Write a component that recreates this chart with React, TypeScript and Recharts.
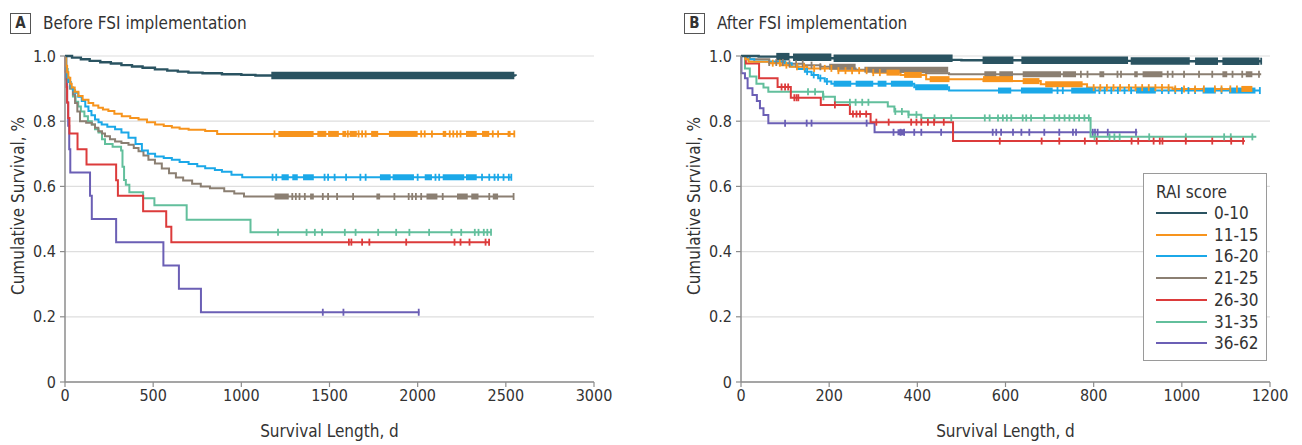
import React from 'react';
import { ComposedChart, Line, Scatter, XAxis, YAxis, CartesianGrid } from 'recharts';

type Pt = [number, number];

const groups = ['0-10', '11-15', '16-20', '21-25', '26-30', '31-35', '36-62'];
const colors = ['#2a5361', '#f7941d', '#1ba8e8', '#8b7f72', '#dc3b3b', '#62bf9c', '#6b5fb5'];

const yTicks = [0, 0.2, 0.4, 0.6, 0.8, 1.0];
const xTicksA = [0, 500, 1000, 1500, 2000, 2500, 3000];
const xTicksB = [0, 200, 400, 600, 800, 1000, 1200];

// ---------- A: before FSI implementation ----------
// survival curves: [day, cumulative survival]
const survA_0_10: Pt[] = [[0, 1], [40, 0.995], [90, 0.99], [140, 0.985], [200, 0.981], [260, 0.977], [320, 0.972], [380, 0.968], [440, 0.964], [510, 0.959], [580, 0.955], [640, 0.952], [700, 0.949], [780, 0.947], [890, 0.944], [1000, 0.942], [1080, 0.94], [2555, 0.939]];
const survA_11_15: Pt[] = [[0, 1], [5, 0.97], [12, 0.95], [19, 0.933], [30, 0.915], [38, 0.903], [55, 0.89], [76, 0.877], [100, 0.866], [133, 0.856], [160, 0.848], [189, 0.841], [215, 0.836], [246, 0.831], [280, 0.823], [322, 0.815], [370, 0.81], [417, 0.805], [465, 0.797], [511, 0.79], [560, 0.785], [606, 0.781], [650, 0.777], [701, 0.774], [795, 0.77], [863, 0.761], [2548, 0.761]];
const survA_16_20: Pt[] = [[0, 1], [6, 0.96], [12, 0.935], [20, 0.92], [32, 0.903], [45, 0.895], [57, 0.887], [75, 0.875], [95, 0.862], [115, 0.845], [133, 0.831], [150, 0.818], [170, 0.805], [190, 0.797], [208, 0.79], [240, 0.783], [284, 0.775], [320, 0.765], [360, 0.749], [400, 0.73], [436, 0.71], [470, 0.7], [511, 0.692], [560, 0.687], [606, 0.682], [650, 0.675], [701, 0.669], [750, 0.662], [795, 0.656], [850, 0.65], [890, 0.645], [944, 0.636], [1005, 0.628], [2531, 0.628]];
const survA_21_25: Pt[] = [[0, 1], [8, 0.95], [15, 0.92], [30, 0.9], [45, 0.882], [57, 0.856], [70, 0.83], [85, 0.8], [120, 0.795], [152, 0.79], [170, 0.78], [189, 0.769], [210, 0.762], [227, 0.754], [255, 0.745], [284, 0.738], [320, 0.733], [360, 0.728], [390, 0.718], [417, 0.708], [445, 0.695], [473, 0.682], [510, 0.67], [549, 0.655], [590, 0.64], [629, 0.627], [670, 0.618], [721, 0.608], [770, 0.6], [822, 0.594], [903, 0.585], [960, 0.578], [1015, 0.569], [2544, 0.569]];
const survA_26_30: Pt[] = [[0, 1], [3, 0.952], [8, 0.905], [12, 0.857], [18, 0.81], [25, 0.762], [71, 0.714], [122, 0.667], [290, 0.619], [300, 0.571], [443, 0.524], [574, 0.476], [603, 0.429], [2405, 0.429]];
const survA_31_35: Pt[] = [[0, 1], [6, 0.96], [15, 0.93], [28, 0.9], [45, 0.876], [60, 0.86], [75, 0.845], [90, 0.83], [110, 0.815], [130, 0.8], [152, 0.79], [170, 0.775], [190, 0.765], [210, 0.745], [227, 0.73], [270, 0.722], [318, 0.71], [326, 0.66], [335, 0.62], [345, 0.605], [365, 0.582], [443, 0.564], [507, 0.542], [690, 0.498], [1052, 0.459], [2416, 0.459]];
const survA_36_62: Pt[] = [[0, 1], [4, 0.929], [12, 0.857], [18, 0.786], [24, 0.714], [30, 0.643], [142, 0.571], [152, 0.5], [290, 0.429], [558, 0.357], [646, 0.286], [771, 0.214], [2010, 0.214]];

// censored observations (days) and densely censored stretches [from, to]
const censA_0_10: number[] = [];
const denseA_0_10: Pt[] = [[1170, 2548]];
const censA_11_15 = [1188, 1604, 1665, 1685, 1705, 2020, 2040, 2081, 2182, 2202, 2223, 2243, 2426, 2456, 2548];
const denseA_11_15: Pt[] = [[1210, 1410], [1431, 1482], [1492, 1553], [1573, 1595], [1614, 1655], [1736, 1776], [1837, 2000], [2142, 2162], [2274, 2335], [2365, 2406], [2510, 2527]];
const censA_16_20 = [1177, 1198, 1472, 1492, 1529, 1594, 1675, 1705, 2000, 2101, 2122, 2365, 2406, 2436, 2456, 2487, 2517, 2531];
const denseA_16_20: Pt[] = [[1228, 1269], [1289, 1320], [1350, 1411], [1786, 1847], [1858, 1979], [2040, 2081], [2142, 2264], [2274, 2335]];
const censA_21_25 = [1289, 1309, 1330, 1360, 1462, 1492, 1543, 1634, 1868, 1949, 1969, 1990, 2020, 2142, 2406, 2544];
const denseA_21_25: Pt[] = [[1188, 1269], [1390, 1411], [1766, 1787], [2050, 2112], [2223, 2284], [2304, 2345], [2426, 2456]];
const censA_26_30 = [1610, 1624, 1685, 1726, 1935, 2209, 2243, 2294, 2385, 2405];
const denseA_26_30: Pt[] = [];
const censA_31_35 = [1208, 1370, 1417, 1458, 1587, 1648, 1776, 1878, 1953, 2065, 2192, 2247, 2324, 2345, 2375, 2395, 2416];
const denseA_31_35: Pt[] = [];
const censA_36_62 = [1462, 1579, 2006];
const denseA_36_62: Pt[] = [];

// ---------- B: after FSI implementation ----------
const survB_0_10: Pt[] = [[0, 1], [40, 0.998], [100, 0.996], [200, 0.993], [300, 0.99], [400, 0.988], [500, 0.987], [650, 0.986], [800, 0.985], [950, 0.984], [1180, 0.984]];
const survB_11_15: Pt[] = [[0, 1], [10, 0.99], [17, 0.982], [64, 0.978], [90, 0.972], [111, 0.967], [150, 0.962], [221, 0.955], [299, 0.949], [362, 0.942], [420, 0.929], [550, 0.923], [680, 0.913], [785, 0.903], [979, 0.899], [1165, 0.899]];
const survB_16_20: Pt[] = [[0, 1], [15, 0.99], [30, 0.983], [100, 0.978], [115, 0.968], [130, 0.96], [145, 0.952], [160, 0.942], [175, 0.932], [190, 0.922], [205, 0.915], [393, 0.904], [472, 0.894], [1177, 0.894]];
const survB_21_25: Pt[] = [[0, 1], [20, 0.99], [64, 0.98], [100, 0.976], [143, 0.972], [180, 0.967], [221, 0.962], [260, 0.958], [299, 0.955], [340, 0.952], [378, 0.95], [420, 0.947], [472, 0.944], [1180, 0.944]];
const survB_26_30: Pt[] = [[0, 1], [11, 0.977], [41, 0.932], [83, 0.905], [113, 0.872], [181, 0.85], [247, 0.822], [294, 0.797], [481, 0.739], [1143, 0.739]];
const survB_31_35: Pt[] = [[0, 1], [9, 0.962], [20, 0.937], [35, 0.915], [51, 0.903], [62, 0.89], [186, 0.875], [213, 0.858], [333, 0.845], [348, 0.83], [380, 0.82], [409, 0.81], [793, 0.752], [1169, 0.752]];
const survB_36_62: Pt[] = [[0, 1], [1, 0.947], [9, 0.932], [15, 0.901], [26, 0.88], [36, 0.862], [43, 0.84], [51, 0.819], [62, 0.794], [303, 0.766], [899, 0.766]];

const censB_0_10: number[] = [1180];
const denseB_0_10: Pt[] = [[80, 110], [118, 205], [210, 480], [548, 618], [636, 878], [884, 1018], [1030, 1082], [1092, 1176]];
const censB_11_15 = [72, 88, 103, 127, 143, 166, 190, 205, 221, 237, 252, 268, 285, 300, 315, 800, 815, 830, 845, 860, 880, 895, 910, 925, 940, 955, 970, 985, 1005, 1030, 1050, 1075, 1090, 1110, 1125];
const denseB_11_15: Pt[] = [[330, 360], [370, 410], [428, 473], [549, 617], [639, 677], [690, 775], [1135, 1160]];
const censB_16_20 = [150, 165, 180, 195, 718, 730, 813, 825, 840, 855, 870, 885, 955, 970, 985, 1000, 1015, 1030, 1090, 1177];
const denseB_16_20: Pt[] = [[210, 250], [260, 300], [310, 330], [340, 390], [395, 470], [583, 613], [635, 707], [749, 805], [896, 941], [1047, 1077], [1107, 1167]];
const censB_21_25 = [64, 80, 95, 110, 125, 140, 160, 180, 771, 786, 854, 862, 968, 979, 1005, 1039, 1069, 1115, 1137, 1175];
const denseB_21_25: Pt[] = [[200, 260], [280, 470], [552, 579], [586, 617], [639, 726], [730, 760], [813, 824], [892, 900], [911, 956], [1092, 1103], [1145, 1160]];
const censB_26_30 = [92, 100, 107, 121, 126, 130, 213, 254, 262, 270, 284, 307, 335, 386, 398, 409, 424, 438, 460, 587, 682, 722, 780, 807, 886, 901, 936, 950, 956, 1009, 1069, 1112, 1139];
const denseB_26_30: Pt[] = [];
const censB_31_35 = [152, 168, 187, 247, 260, 275, 289, 350, 365, 380, 398, 439, 477, 553, 564, 583, 594, 603, 613, 639, 647, 658, 688, 711, 722, 734, 745, 756, 767, 779, 789, 802, 836, 847, 859, 926, 1009, 1096, 1111, 1160];
const denseB_31_35: Pt[] = [];
const censB_36_62 = [100, 149, 160, 285, 346, 362, 370, 393, 409, 454, 571, 579, 590, 617, 636, 654, 688, 722, 753, 760, 798, 803, 809, 832, 896];
const denseB_36_62: Pt[] = [[355, 372]];

const curvesA = [survA_0_10, survA_11_15, survA_16_20, survA_21_25, survA_26_30, survA_31_35, survA_36_62];
const censorsA = [censA_0_10, censA_11_15, censA_16_20, censA_21_25, censA_26_30, censA_31_35, censA_36_62];
const denseA = [denseA_0_10, denseA_11_15, denseA_16_20, denseA_21_25, denseA_26_30, denseA_31_35, denseA_36_62];
const curvesB = [survB_0_10, survB_11_15, survB_16_20, survB_21_25, survB_26_30, survB_31_35, survB_36_62];
const censorsB = [censB_0_10, censB_11_15, censB_16_20, censB_21_25, censB_26_30, censB_31_35, censB_36_62];
const denseB = [denseB_0_10, denseB_11_15, denseB_16_20, denseB_21_25, denseB_26_30, denseB_31_35, denseB_36_62];

const FONT = "'Liberation Sans Narrow', 'DejaVu Sans Condensed', 'Roboto', sans-serif";
const AXIS = '#8c8c8c';
const TEXT = '#333';

// value of a KM step curve at day t
const stepValue = (curve: Pt[], t: number) => {
  let s = curve[0][1];
  for (const [d, v] of curve) {
    if (d <= t) s = v;
    else break;
  }
  return s;
};

const drawOrder = [6, 5, 4, 3, 2, 1, 0];

interface PanelProps {
  width: number;
  rightPad: number;
  xMax: number;
  xTicks: number[];
  curves: Pt[][];
  censors: number[][];
  dense: Pt[][];
}

const KMPanel = ({ width, rightPad, xMax, xTicks, curves, censors, dense }: PanelProps) => {
  return (
    <ComposedChart width={width} height={445} margin={{ top: 56, right: rightPad, bottom: 0, left: 0 }}>
      <CartesianGrid vertical={false} stroke="#dedede" strokeWidth={1.2} />
      <XAxis
        type="number"
        dataKey="t"
        domain={[0, xMax]}
        ticks={xTicks}
        height={63}
        tickSize={5}
        tickMargin={3}
        axisLine={{ stroke: AXIS, strokeWidth: 1.5 }}
        tickLine={{ stroke: AXIS, strokeWidth: 1.2 }}
        tick={{ fill: TEXT, fontSize: 16, fontFamily: FONT }}
        label={{ value: 'Survival Length, d', position: 'insideBottom', offset: 8, style: { fill: TEXT, fontSize: 17, fontFamily: FONT } }}
      />
      <YAxis
        type="number"
        dataKey="s"
        domain={[0, 1]}
        ticks={yTicks}
        width={65}
        tickSize={5}
        tickMargin={4}
        tickFormatter={(v: number) => (v === 0 ? '0' : v.toFixed(1))}
        axisLine={{ stroke: AXIS, strokeWidth: 1.5 }}
        tickLine={{ stroke: AXIS, strokeWidth: 1.2 }}
        tick={{ fill: TEXT, fontSize: 16, fontFamily: FONT }}
        label={{
          value: 'Cumulative Survival, %',
          content: () => (
            <text x={18} y={206} transform="rotate(-90 18 206)" textAnchor="middle" dominantBaseline="central" fill={TEXT} fontSize={17} fontFamily={FONT}>
              Cumulative Survival, %
            </text>
          ),
        }}
      />
      {drawOrder.map((i) => (
        <Line
          key={'curve' + i}
          data={curves[i].map(([t, s]) => ({ t, s }))}
          dataKey="s"
          type="stepAfter"
          stroke={colors[i]}
          strokeWidth={i === 0 ? 2.4 : 2}
          dot={false}
          activeDot={false}
          isAnimationActive={false}
        />
      ))}
      {drawOrder.flatMap((i) =>
        dense[i].map(([a, b], k) => (
          <Line
            key={'dense' + i + '-' + k}
            data={[{ t: a, s: stepValue(curves[i], a) }, { t: b, s: stepValue(curves[i], a) }]}
            dataKey="s"
            type="linear"
            stroke={colors[i]}
            strokeWidth={i === 0 ? 7.5 : 6}
            strokeLinecap="butt"
            dot={false}
            activeDot={false}
            isAnimationActive={false}
          />
        ))
      )}
      {drawOrder.map((i) => (
        <Scatter
          key={'cens' + i}
          data={censors[i].map((t) => ({ t, s: stepValue(curves[i], t) }))}
          dataKey="s"
          fill={colors[i]}
          isAnimationActive={false}
          shape={(p: any) => (
            <line x1={p.cx} x2={p.cx} y1={p.cy - 3.5} y2={p.cy + 3.5} stroke={colors[i]} strokeWidth={1.8} />
          )}
        />
      ))}
    </ComposedChart>
  );
};

const PanelTitle = ({ letter, text, left }: { letter: string; text: string; left: number }) => (
  <div style={{ position: 'absolute', left, top: 12, height: 22, display: 'flex', alignItems: 'center', fontFamily: FONT, color: TEXT }}>
    <div
      style={{
        width: 19,
        height: 19,
        border: '1.2px solid #555',
        display: 'flex',
        alignItems: 'center',
        justifyContent: 'center',
        fontWeight: 'bold',
        fontSize: 15,
      }}
    >
      {letter}
    </div>
    <span style={{ marginLeft: 12, fontSize: 17 }}>{text}</span>
  </div>
);

const LegendBox = () => (
  <div
    style={{
      position: 'absolute',
      left: 1143,
      top: 173,
      width: 124,
      height: 188,
      border: '1.2px solid #9a9a9a',
      background: '#fff',
      fontFamily: FONT,
      color: TEXT,
      fontSize: 17,
      boxSizing: 'border-box',
    }}
  >
    <div style={{ position: 'absolute', left: 12, top: 8, lineHeight: '20px' }}>RAI score</div>
    {groups.map((g, i) => (
      <div key={g} style={{ position: 'absolute', left: 12, top: 29 + i * 21.7, height: 20, display: 'flex', alignItems: 'center' }}>
        <div style={{ width: 51, height: 2, background: colors[i] }} />
        <span style={{ marginLeft: 7 }}>{g}</span>
      </div>
    ))}
  </div>
);

export default function App() {
  return (
    <div style={{ position: 'absolute', left: 0, top: 0, width: 1302, height: 445, background: '#fff', overflow: 'hidden' }}>
      <PanelTitle letter="A" text="Before FSI implementation" left={10} />
      <PanelTitle letter="B" text="After FSI implementation" left={684} />
      <div style={{ position: 'absolute', left: 0, top: 0 }}>
        <KMPanel width={640} rightPad={46} xMax={3000} xTicks={xTicksA} curves={curvesA} censors={censorsA} dense={denseA} />
      </div>
      <div style={{ position: 'absolute', left: 676, top: 0 }}>
        <KMPanel width={626} rightPad={32} xMax={1200} xTicks={xTicksB} curves={curvesB} censors={censorsB} dense={denseB} />
      </div>
      <LegendBox />
    </div>
  );
}
